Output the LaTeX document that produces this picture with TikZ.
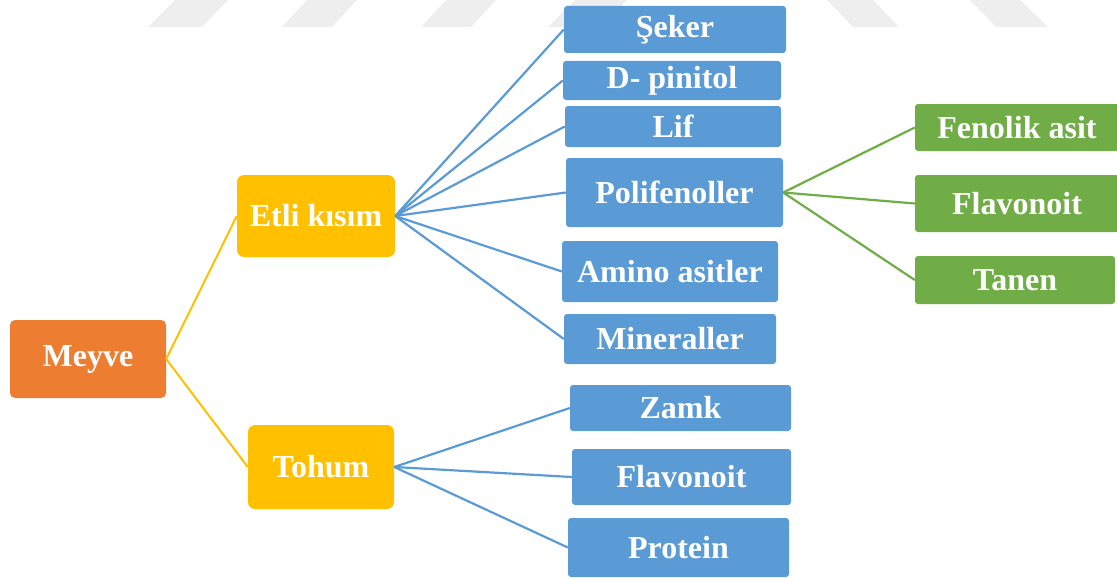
\documentclass[tikz,border=0pt]{standalone}
\usepackage{fontspec}
\setmainfont{Liberation Serif}
\definecolor{cblue}{HTML}{5B9BD5}
\definecolor{cgreen}{HTML}{70AD47}
\definecolor{cyellow}{HTML}{FFC000}
\definecolor{corange}{HTML}{ED7D31}
\definecolor{wmark}{HTML}{EEEEEE}
\tikzset{
  box/.style={rectangle, inner sep=0pt, text=white, font=\fontsize{32}{38}\selectfont\bfseries, draw=none},
  bluebox/.style={box, fill=cblue, rounded corners=3pt},
  greenbox/.style={box, fill=cgreen, rounded corners=3pt},
  yellowbox/.style={box, fill=cyellow, rounded corners=7pt},
  orangebox/.style={box, fill=corange, rounded corners=5pt},
  bline/.style={draw=cblue, line width=2.2pt},
  gline/.style={draw=cgreen, line width=2.2pt},
  yline/.style={draw=cyellow, line width=2pt},
  wm/.style={fill=wmark, draw=none}
}
\begin{document}
\begin{tikzpicture}[x=1pt,y=-1pt]
\useasboundingbox (0,0) rectangle (1117,578);
% watermark
\fill[wm] (148,27) -- (202,27) -- (228,0) -- (175,0) -- cycle;
\fill[wm] (282,27) -- (332,27) -- (357,0) -- (307,0) -- cycle;
\fill[wm] (421,27) -- (471,27) -- (496,0) -- (446,0) -- cycle;
\fill[wm] (548,27) -- (600,27) -- (627,0) -- (575,0) -- cycle;
\fill[wm] (853,27) -- (899,27) -- (873,0) -- (827,0) -- cycle;
\fill[wm] (996,27) -- (1048,27) -- (1020,0) -- (970,0) -- cycle;
% nodes
\node[orangebox, minimum width=156pt, minimum height=78pt] (meyve) at (88,359) {Meyve};
\node[yellowbox, minimum width=158pt, minimum height=82pt] (etli) at (316,216) {Etli kısım};
\node[yellowbox, minimum width=146pt, minimum height=84pt] (tohum) at (321,467) {Tohum};
\node[bluebox, minimum width=222pt, minimum height=47pt] (seker) at (675,29.5) {Şeker};
\node[bluebox, minimum width=218pt, minimum height=39pt] (dpin) at (672,80.5) {D- pinitol};
\node[bluebox, minimum width=216pt, minimum height=41pt] (lif) at (673,126.5) {Lif};
\node[bluebox, minimum width=217pt, minimum height=69pt] (polif) at (674.5,192.5) {Polifenoller};
\node[bluebox, minimum width=216pt, minimum height=61pt] (amino) at (670,271.5) {Amino asitler};
\node[bluebox, minimum width=212pt, minimum height=50pt] (miner) at (670,339) {Mineraller};
\node[bluebox, minimum width=221pt, minimum height=46pt] (zamk) at (680.5,408) {Zamk};
\node[bluebox, minimum width=219pt, minimum height=56pt] (flavb) at (681.5,477) {Flavonoit};
\node[bluebox, minimum width=221pt, minimum height=59pt] (protein) at (678.5,547.5) {Protein};
\node[greenbox, minimum width=204pt, minimum height=47pt] (fenolik) at (1017,127.5) {Fenolik asit};
\node[greenbox, minimum width=204pt, minimum height=57pt] (flavg) at (1017,203.5) {Flavonoit};
\node[greenbox, minimum width=200pt, minimum height=48pt] (tanen) at (1015,280) {Tanen};
% connectors
\draw[yline] (meyve.east) -- (etli.west);
\draw[yline] (meyve.east) -- (tohum.west);
\foreach \n in {seker,dpin,lif,polif,amino,miner}
  \draw[bline] (etli.east) -- (\n.west);
\foreach \n in {zamk,flavb,protein}
  \draw[bline] (tohum.east) -- (\n.west);
\foreach \n in {fenolik,flavg,tanen}
  \draw[gline] (polif.east) -- (\n.west);
\end{tikzpicture}
\end{document}
